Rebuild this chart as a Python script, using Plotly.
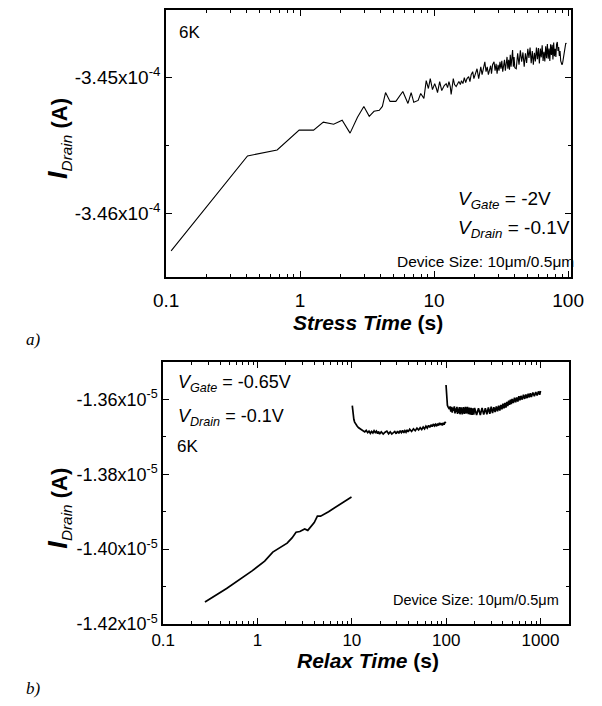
import plotly.graph_objects as go

W, H = 602, 706
FONT = "Liberation Sans, Arial, sans-serif"
SERIF = "Liberation Serif, Times New Roman, serif"

# ---------------- Panel a) : stress ----------------
stress_time_s = [
    0.109, 0.405, 0.674, 0.984, 1.26, 1.49, 1.78, 2.06, 2.36, 2.68, 2.99, 3.28, 3.56, 3.90, 4.11,
    4.34, 4.69, 5.18, 5.84, 6.38, 6.74, 7.05, 7.60, 7.94, 8.39, 8.73, 9.06, 9.36, 9.72, 10.1,
    10.4, 10.6, 11.0, 11.4, 11.9, 12.3, 12.6, 12.9, 13.2, 13.4, 13.9, 14.2, 14.6, 15.0, 15.3,
    15.7, 16.0, 16.4, 16.8, 17.2, 17.6, 18.1, 18.5, 18.9, 19.4, 19.8, 20.3, 20.9, 21.5, 21.9,
    22.3, 22.8, 23.3, 23.9, 24.4, 24.9, 25.4, 25.9, 26.4, 26.8, 27.3, 28.0, 28.5, 29.0, 29.5,
    30.0, 30.5, 31.0, 31.5, 32.0, 32.5, 33.0, 33.5, 34.0, 34.5, 35.0, 35.5, 36.0, 36.5, 37.0,
    37.5, 38.0, 38.5, 39.0, 39.5, 40.0, 41, 42, 43, 44, 45, 46, 47, 48, 49,
    50, 51, 52, 53, 54, 55, 56, 57, 58, 59, 60, 61, 62, 63, 64,
    65, 66, 67, 68, 69, 70, 71, 72, 73, 74, 75, 76, 77, 78, 79,
    80, 81, 82, 83, 84, 85, 86, 87, 88, 89, 90, 91, 92, 93, 94,
    95, 96, 97,
]
stress_current_uA = [
    -346.277, -345.577, -345.533, -345.387, -345.387, -345.328, -345.343, -345.314, -345.409, -345.292,
    -345.212, -345.285, -345.248, -345.241, -345.212, -345.110, -345.175, -345.175, -345.102, -345.190,
    -345.110, -345.182, -345.168, -345.117, -345.153, -345.022, -345.080, -345.007, -345.088, -345.044,
    -345.080, -345.110, -345.029, -345.095, -345.058, -345.044, -345.073, -345.029, -345.066, -345.124,
    -345.007, -345.051, -345.066, -345.036, -345.029, -345.051, -345.022, -345.044, -345.000, -345.036,
    -345.007, -344.993, -345.029, -344.978, -344.956, -345.007, -344.971, -344.934, -345.007, -344.964,
    -344.920, -344.978, -344.942, -344.883, -344.956, -344.920, -344.978, -344.934, -344.912, -344.971,
    -344.905, -344.883, -344.949, -344.898, -344.971, -344.905, -344.949, -344.883, -344.934, -344.876,
    -344.956, -344.912, -344.869, -344.949, -344.905, -344.847, -344.934, -344.869, -344.942, -344.832,
    -344.920, -344.854, -344.796, -344.920, -344.847, -344.927, -344.934, -344.821, -344.905, -344.799,
    -344.883, -344.814, -344.920, -344.821, -344.891, -344.788, -344.854, -344.778, -344.894, -344.804,
    -344.905, -344.816, -344.880, -344.777, -344.863, -344.781, -344.896, -344.785, -344.850, -344.761,
    -344.876, -344.809, -344.880, -344.769, -344.856, -344.752, -344.860, -344.785, -344.877, -344.753,
    -344.832, -344.758, -344.866, -344.740, -344.841, -344.788, -344.847, -344.752, -344.737, -344.803,
    -344.774, -344.840, -344.803, -344.876, -344.891, -344.905, -344.891, -344.861, -344.818, -344.788,
    -344.759, -344.745, -344.752,
]

# ---------------- Panel b) : relax (three segments) ----------------
relax1_time_s = [0.277, 0.47, 0.875, 1.19, 1.45, 1.66, 2.06, 2.32, 2.56, 2.81, 3.16, 3.41, 3.69,
                 3.99, 4.31, 4.66, 5.66, 9.91]
relax1_current_uA = [-14.141, -14.105, -14.058, -14.032, -14.008, -13.999, -13.984, -13.970, -13.955,
                     -13.953, -13.946, -13.950, -13.938, -13.929, -13.912, -13.912, -13.900, -13.861]

relax2_time_s = [10.1, 10.2, 10.35, 10.5, 10.7, 11.0, 11.4, 11.8, 12.2, 12.7, 13.2, 13.7, 14.2, 14.7,
                 15.2, 15.7, 16.2, 16.7, 17.2, 17.7, 18.2, 18.7, 19.2, 19.7, 20.5, 21.5, 22.5, 23.5,
                 24.5, 25.5, 26.5, 27.5, 28.5, 29.5, 30.5, 31.5, 32.5, 33.5, 34.5, 35.5, 36.5, 37.5,
                 38.5, 39.5, 41, 43, 45, 47, 49, 51, 53, 55, 57, 59, 61, 63, 65, 67, 69, 71, 73, 75,
                 77, 79, 81, 83, 85, 87, 89, 91, 93, 95, 97, 99]
relax2_current_uA = [-13.617, -13.632, -13.646, -13.654, -13.661, -13.667, -13.672, -13.676, -13.678,
                     -13.681, -13.683, -13.687, -13.683, -13.689, -13.685, -13.691, -13.686, -13.690,
                     -13.684, -13.689, -13.685, -13.692, -13.686, -13.693, -13.687, -13.693, -13.688,
                     -13.685, -13.692, -13.687, -13.693, -13.688, -13.686, -13.692, -13.685, -13.691,
                     -13.684, -13.689, -13.683, -13.690, -13.684, -13.688, -13.682, -13.687, -13.680,
                     -13.686, -13.679, -13.684, -13.677, -13.682, -13.676, -13.681, -13.674, -13.679,
                     -13.672, -13.677, -13.670, -13.675, -13.668, -13.673, -13.666, -13.671, -13.667,
                     -13.672, -13.665, -13.670, -13.663, -13.668, -13.664, -13.670, -13.663, -13.668,
                     -13.661, -13.664]

relax3_time_s = [99.6, 100.5, 101.5, 103, 105, 108, 110, 112, 114, 116, 118, 120, 122, 124, 126, 128,
                 130, 132, 134, 136, 138, 140, 144, 148, 152, 156, 160, 164, 168, 172, 176, 180, 184,
                 188, 192, 196, 200, 210, 220, 230, 240, 250, 260, 270, 280, 290, 300, 310, 320, 330,
                 340, 350, 360, 370, 380, 390, 400, 410, 420, 430, 440, 450, 460, 470, 480, 490, 500,
                 515, 530, 545, 560, 575, 590, 605, 620, 640, 660, 680, 700, 720, 740, 760, 780, 800,
                 830, 860, 890, 920, 950, 980, 1000]
relax3_current_uA = [-13.562, -13.592, -13.608, -13.616, -13.621, -13.626, -13.619, -13.633, -13.620,
                     -13.636, -13.622, -13.631, -13.619, -13.638, -13.624, -13.634, -13.620, -13.639,
                     -13.625, -13.636, -13.621, -13.640, -13.622, -13.640, -13.621, -13.639, -13.620,
                     -13.638, -13.620, -13.640, -13.622, -13.641, -13.623, -13.642, -13.624, -13.641,
                     -13.623, -13.642, -13.624, -13.642, -13.623, -13.641, -13.624, -13.640, -13.622,
                     -13.639, -13.620, -13.637, -13.621, -13.634, -13.619, -13.632, -13.617, -13.630,
                     -13.615, -13.627, -13.612, -13.624, -13.610, -13.622, -13.607, -13.618, -13.604,
                     -13.615, -13.601, -13.613, -13.599, -13.610, -13.596, -13.608, -13.595, -13.606,
                     -13.592, -13.603, -13.591, -13.601, -13.588, -13.599, -13.587, -13.597, -13.585,
                     -13.595, -13.584, -13.594, -13.582, -13.592, -13.581, -13.590, -13.579, -13.588,
                     -13.578, -13.583]

# ---------------- tick labels ----------------
a_xtick_vals = [0.1, 1, 10, 100]
a_xtick_text = ["0.1", "1", "10", "100"]
a_ytick_vals_uA = [-346.0, -345.0]
a_ytick_text = ["-3.46x10<sup>-4</sup>", "-3.45x10<sup>-4</sup>"]
a_yminor_uA = [-345.5, -344.5]

b_xtick_vals = [0.1, 1, 10, 100, 1000]
b_xtick_text = ["0.1", "1", "10", "100", "1000"]
b_ytick_vals_uA = [-14.2, -14.0, -13.8, -13.6]
b_ytick_text = ["-1.42x10<sup>-5</sup>", "-1.40x10<sup>-5</sup>", "-1.38x10<sup>-5</sup>",
                "-1.36x10<sup>-5</sup>"]
b_yminor_uA = [-14.1, -13.9, -13.7, -13.5]

UA = 1e-6


def to_A(vals):
    return [v * UA for v in vals]


def log_minors(decades):
    return [m * 10.0 ** d for d in decades for m in range(2, 10)]


fig = go.Figure()
fig.add_trace(go.Scatter(x=stress_time_s, y=to_A(stress_current_uA), mode="lines",
                         line=dict(color="black", width=1.1), xaxis="x", yaxis="y",
                         showlegend=False, hoverinfo="skip"))
for tx, ty in [(relax1_time_s, relax1_current_uA), (relax2_time_s, relax2_current_uA),
               (relax3_time_s, relax3_current_uA)]:
    fig.add_trace(go.Scatter(x=tx, y=to_A(ty), mode="lines", line=dict(color="black", width=1.7),
                             xaxis="x2", yaxis="y2", showlegend=False, hoverinfo="skip"))


def px_dom(a, b):
    return [a / W, b / W]


def py_dom(top, bottom):
    return [1 - bottom / H, 1 - top / H]


axis_common = dict(showline=True, linecolor="black", linewidth=1.6, mirror="ticks",
                   ticks="inside", ticklen=6, tickwidth=1.2, tickcolor="black",
                   showgrid=False, zeroline=False, tickmode="array")

fig.update_layout(
    width=W, height=H, margin=dict(l=0, r=0, t=0, b=0),
    paper_bgcolor="white", plot_bgcolor="white",
    font=dict(family=FONT, color="black"),
    xaxis=dict(axis_common, type="log", range=[-1, 2.02], domain=px_dom(160, 583), anchor="y",
               tickvals=a_xtick_vals, ticktext=a_xtick_text, tickfont=dict(size=19),
               ticklabelstandoff=5,
               minor=dict(tickvals=log_minors([-1, 0, 1]), ticks="inside", ticklen=3,
                          tickwidth=1, tickcolor="black", showgrid=False)),
    yaxis=dict(axis_common, range=[-346.47 * UA, -344.5 * UA], domain=py_dom(10, 281), anchor="x",
               tickvals=to_A(a_ytick_vals_uA), ticktext=a_ytick_text, tickfont=dict(size=19),
               minor=dict(tickvals=to_A(a_yminor_uA), ticks="inside", ticklen=3,
                          tickwidth=1, tickcolor="black", showgrid=False)),
    xaxis2=dict(axis_common, type="log", range=[-1, 3.301], domain=px_dom(157, 581), anchor="y2",
                tickvals=b_xtick_vals, ticktext=b_xtick_text, tickfont=dict(size=17),
                minor=dict(tickvals=log_minors([-1, 0, 1, 2]) + [2000], ticks="inside", ticklen=3,
                           tickwidth=1, tickcolor="black", showgrid=False)),
    yaxis2=dict(axis_common, range=[-14.2 * UA, -13.5 * UA], domain=py_dom(367, 633), anchor="x2",
                tickvals=to_A(b_ytick_vals_uA), ticktext=b_ytick_text, tickfont=dict(size=18),
                minor=dict(tickvals=to_A(b_yminor_uA), ticks="inside", ticklen=3,
                           tickwidth=1, tickcolor="black", showgrid=False)),
)


def ann(text, px, py, size, xanchor="left", yanchor="middle", angle=0, family=FONT):
    return dict(text=text, x=px / W, y=1 - py / H, xref="paper", yref="paper",
                xanchor=xanchor, yanchor=yanchor, showarrow=False, textangle=angle,
                font=dict(size=size, family=family, color="black"))


YTITLE = ("<b><i><span style='font-size:27px'>I</span></i></b><sub><i>Drain</i></sub>"
          "<b> (A)</b>")

annotations = [
    # panel a
    ann("6K", 171, 33, 17),
    ann("<i>V</i><sub><i>Gate</i></sub> = -2V", 463, 203, 19),
    ann("<i>V</i><sub><i>Drain</i></sub> = -0.1V", 463, 232, 19),
    ann("Device Size: 10\u03bcm/0.5\u03bcm", 588, 265, 15.5, xanchor="right"),
    ann("<b><i>Stress Time</i> (s)</b>", 371, 327, 21, xanchor="center"),
    ann(YTITLE, 48, 140, 22, xanchor="center", angle=-90),
    ann("<i>a)</i>", 12, 344, 17, family=SERIF),
    # panel b
    ann("<i>V</i><sub><i>Gate</i></sub> = -0.65V", 170, 389, 18),
    ann("<i>V</i><sub><i>Drain</i></sub> = -0.1V", 170, 423, 18),
    ann("6K", 169, 453, 17),
    ann("Device Size: 10\u03bcm/0.5\u03bcm", 573, 609, 14.5, xanchor="right"),
    ann("<b><i>Relax Time</i> (s)</b>", 371, 670, 21, xanchor="center"),
    ann(YTITLE, 48, 515, 22, xanchor="center", angle=-90),
    ann("<i>b)</i>", 12, 698, 17, family=SERIF),
]
fig.update_layout(annotations=annotations)

fig.write_html("out.html")
